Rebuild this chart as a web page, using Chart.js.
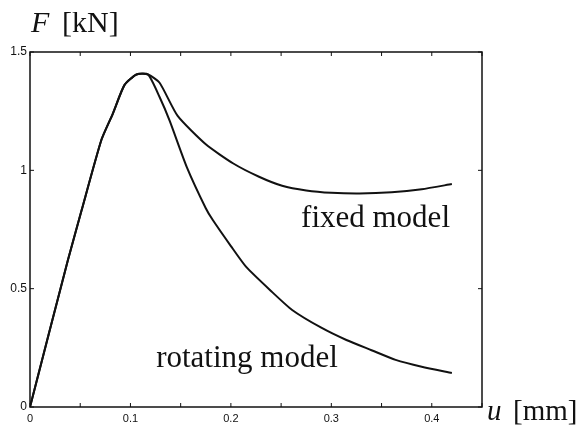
<!DOCTYPE html>
<html>
<head>
<meta charset="utf-8">
<script src="https://cdn.jsdelivr.net/npm/chart.js@4"></script>
<style>
  html, body { margin: 0; padding: 0; background: #fff; }
  #wrap { width: 582px; height: 431px; }
</style>
</head>
<body>
<div id="wrap"><canvas id="forceChart"></canvas></div>
<script>
// u [mm] vs F [kN]
const fixedU = [0, 0.0377, 0.0513, 0.0712, 0.0825, 0.094, 0.106, 0.1175, 0.129, 0.147, 0.175, 0.202, 0.228, 0.251, 0.275, 0.30, 0.328, 0.36, 0.39, 0.42];
const fixedF = [0, 0.62, 0.83, 1.13, 1.24, 1.36, 1.405, 1.405, 1.37, 1.23, 1.11, 1.03, 0.973, 0.935, 0.915, 0.905, 0.902, 0.907, 0.92, 0.942];
const rotU = [0, 0.0377, 0.0513, 0.0712, 0.0825, 0.094, 0.106, 0.1175, 0.129, 0.139, 0.156, 0.175, 0.182, 0.2, 0.215, 0.24, 0.261, 0.29, 0.315, 0.34, 0.364, 0.39, 0.42];
const rotF = [0, 0.62, 0.83, 1.13, 1.24, 1.36, 1.405, 1.405, 1.31, 1.21, 1.015, 0.84, 0.79, 0.68, 0.593, 0.49, 0.41, 0.335, 0.283, 0.24, 0.199, 0.17, 0.144];
const curveLabels = ['fixed model', 'rotating model'];
// text anchor (centre x, baseline) in data units
const labelAt = [[0.344, 0.76], [0.216, 0.169]];

const toPts = (xs, ys) => xs.map((x, i) => ({ x: x, y: ys[i] }));

// box round the plot and inward tick marks, as in the old MATLAB figure
const boxTicks = {
    id: 'boxTicks',
    afterDraw(chart) {
        const { ctx, chartArea: a, scales } = chart;
        ctx.save();
        ctx.strokeStyle = '#111';
        ctx.lineWidth = 1.5;
        ctx.strokeRect(a.left, a.top, a.right - a.left, a.bottom - a.top);
        ctx.lineWidth = 1;
        ctx.beginPath();
        scales.x.ticks.forEach(t => {
            const px = scales.x.getPixelForValue(t.value);
            ctx.moveTo(px, a.bottom); ctx.lineTo(px, a.bottom - 4);
            ctx.moveTo(px, a.top); ctx.lineTo(px, a.top + 4);
        });
        scales.y.ticks.forEach(t => {
            const py = scales.y.getPixelForValue(t.value);
            ctx.moveTo(a.left, py); ctx.lineTo(a.left + 4, py);
            ctx.moveTo(a.right, py); ctx.lineTo(a.right - 4, py);
        });
        ctx.stroke();

        ctx.fillStyle = '#111';
        ctx.textBaseline = 'alphabetic';
        ctx.textAlign = 'center';
        ctx.font = '31px "Liberation Serif"';
        curveLabels.forEach((txt, i) => {
            ctx.fillText(txt, scales.x.getPixelForValue(labelAt[i][0]), scales.y.getPixelForValue(labelAt[i][1]));
        });

        // axis names
        ctx.textAlign = 'left';
        ctx.font = 'italic 30px "Liberation Serif"';
        ctx.fillText('F', 31, 32);
        ctx.font = '30px "Liberation Serif"';
        ctx.fillText('[kN]', 62, 32);
        ctx.font = 'italic 29px "Liberation Serif"';
        ctx.fillText('u', 487, 420);
        ctx.font = '29px "Liberation Serif"';
        ctx.fillText('[mm]', 513, 420);
        ctx.restore();
    }
};

const ctx = document.getElementById('forceChart').getContext('2d');
const chart = new Chart(ctx, {
    type: 'scatter',
    data: {
        datasets: [
            {
                label: curveLabels[0],
                data: toPts(fixedU, fixedF),
                showLine: true,
                borderColor: '#111',
                borderWidth: 2,
                pointRadius: 0,
                tension: 0.2,
                fill: false
            },
            {
                label: curveLabels[1],
                data: toPts(rotU, rotF),
                showLine: true,
                borderColor: '#111',
                borderWidth: 2,
                pointRadius: 0,
                tension: 0.2,
                fill: false
            }
        ]
    },
    options: {
        responsive: true,
        maintainAspectRatio: false,
        animation: false,
        layout: { padding: { top: 52, right: 100, left: 0, bottom: 0 } },
        plugins: {
            legend: { display: false },
            tooltip: { enabled: false }
        },
        scales: {
            x: {
                type: 'linear',
                min: 0,
                max: 0.45,
                afterFit: s => { s.height = 24; },
                grid: { display: false, drawTicks: false },
                border: { display: false },
                ticks: {
                    stepSize: 0.05,
                    autoSkip: false,
                    maxRotation: 0,
                    padding: 5,
                    color: '#111',
                    font: { family: '"Liberation Sans"', size: 11 },
                    callback: v => {
                        const k = Math.round(v * 100);
                        if (k % 10 !== 0 || k > 40) return '';
                        return k === 0 ? '0' : (k / 100).toString();
                    }
                }
            },
            y: {
                type: 'linear',
                min: 0,
                max: 1.5,
                afterFit: s => { s.width = 30; },
                grid: { display: false, drawTicks: false },
                border: { display: false },
                ticks: {
                    stepSize: 0.5,
                    padding: 3,
                    color: '#111',
                    font: { family: '"Liberation Sans"', size: 12 },
                    callback: v => v.toString()
                }
            }
        }
    },
    plugins: [boxTicks]
});
</script>
</body>
</html>
